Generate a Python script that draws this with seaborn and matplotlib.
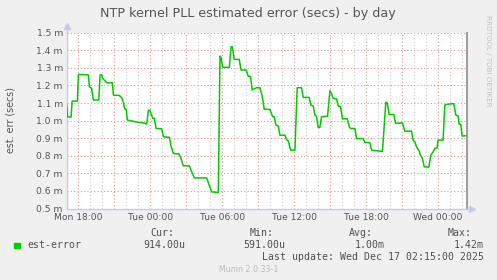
import matplotlib
matplotlib.use("Agg")
import matplotlib.pyplot as plt
import seaborn as sns
import pandas as pd
from matplotlib.ticker import FixedLocator, FixedFormatter

# ---- data (hours since Mon 00:00, est. error in milliseconds) ----
hours = [17.03, 17.09, 17.39, 17.48, 17.92, 18.00, 18.84, 18.92, 19.11, 19.25,
         19.70, 19.81, 19.95, 20.03, 20.17, 20.36, 20.84, 20.92, 21.42, 21.61,
         21.75, 21.84, 21.98, 22.09, 23.00, 23.56, 23.70, 23.84, 23.98, 24.20,
         24.34, 24.48, 24.95, 25.09, 25.59, 25.73, 25.92, 26.39, 26.53, 26.75,
         27.25, 27.45, 27.67, 28.70, 28.89, 29.11, 29.67, 29.81, 29.89, 30.03,
         30.09, 30.59, 30.73, 30.84, 31.00, 31.42, 31.56, 31.98, 32.17, 32.36,
         32.50, 32.73, 32.86, 33.14, 33.34, 33.50, 33.98, 34.20, 34.34, 34.48,
         34.67, 34.81, 35.23, 35.36, 35.50, 35.70, 36.06, 36.25, 36.61, 36.75,
         37.25, 37.39, 37.59, 37.73, 37.86, 38.00, 38.14, 38.28, 38.78, 38.98,
         39.11, 39.25, 39.53, 39.67, 39.86, 40.03, 40.42, 40.59, 40.70, 41.06,
         41.20, 41.75, 41.89, 42.31, 42.45, 42.92, 43.36, 43.64, 43.75, 43.92,
         44.31, 44.45, 45.03, 45.23, 45.78, 45.92, 46.06, 46.20, 46.42, 46.53,
         46.70, 46.84, 47.23, 47.39, 47.59, 47.73, 47.92, 48.00, 48.42, 48.56,
         48.70, 49.31, 49.48, 49.67, 49.75, 49.89, 50.00, 50.31]
est_error_ms = [1.088, 1.022, 1.020, 1.111, 1.111, 1.263, 1.260, 1.192, 1.183, 1.117,
                1.117, 1.260, 1.260, 1.240, 1.230, 1.215, 1.215, 1.145, 1.143, 1.130,
                1.107, 1.069, 1.065, 1.003, 0.990, 0.985, 0.980, 1.060, 1.057, 1.013,
                1.013, 0.955, 0.953, 0.908, 0.905, 0.855, 0.813, 0.810, 0.790, 0.743,
                0.743, 0.709, 0.674, 0.674, 0.637, 0.595, 0.591, 1.367, 1.360, 1.306,
                1.303, 1.303, 1.420, 1.420, 1.348, 1.348, 1.288, 1.288, 1.253, 1.250,
                1.174, 1.183, 1.187, 1.187, 1.136, 1.065, 1.063, 1.022, 1.022, 0.974,
                0.970, 0.917, 0.917, 0.892, 0.885, 0.832, 0.832, 1.187, 1.187, 1.132,
                1.132, 1.088, 1.083, 1.031, 1.025, 0.961, 0.961, 1.022, 1.025, 1.170,
                1.155, 1.126, 1.124, 1.083, 1.080, 1.010, 1.010, 0.965, 0.955, 0.955,
                0.898, 0.898, 0.876, 0.874, 0.832, 0.828, 0.825, 1.104, 1.102, 1.035,
                1.035, 0.984, 0.987, 0.940, 0.940, 0.889, 0.879, 0.851, 0.828, 0.803,
                0.784, 0.737, 0.735, 0.803, 0.822, 0.842, 0.845, 0.889, 0.889, 1.088,
                1.092, 1.097, 1.031, 1.027, 0.980, 0.980, 0.912, 0.914]

x_tick_hours = [18, 24, 30, 36, 42, 48]
x_tick_labels = ["Mon 18:00", "Tue 00:00", "Tue 06:00", "Tue 12:00", "Tue 18:00", "Wed 00:00"]
y_ticks = [0.5, 0.6, 0.7, 0.8, 0.9, 1.0, 1.1, 1.2, 1.3, 1.4, 1.5]
y_tick_labels = ["0.5 m", "0.6 m", "0.7 m", "0.8 m", "0.9 m", "1.0 m",
                 "1.1 m", "1.2 m", "1.3 m", "1.4 m", "1.5 m"]
legend_cols = ["Cur:", "Min:", "Avg:", "Max:"]
legend_vals = ["914.00u", "591.00u", "1.00m", "1.42m"]

df = pd.DataFrame({"hour": hours, "err": est_error_ms})

W, H = 497, 280
sns.set_theme(style="white")
plt.rcParams["font.family"] = ["DejaVu Sans"]
fig = plt.figure(figsize=(W / 100, H / 100), dpi=100, facecolor="#F0F0F0")
ax = fig.add_axes([67 / W, 1 - 208.5 / H, (466.5 - 67) / W, (208.5 - 32.7) / H])
ax.set_facecolor("white")

x0, x1 = 17.05, 50.37
# grids
minor_x = [h for h in range(18, 51)]
major_x = [h for h in range(18, 51, 3)]
for h in minor_x:
    if h not in major_x:
        ax.axvline(h, color="#C8C8C8", lw=0.8, ls=(0, (1, 2)), zorder=1)
for h in major_x:
    ax.axvline(h, color="#F09090", lw=0.8, ls=(0, (1, 2)), zorder=1)
for v in y_ticks[1:]:
    ax.axhline(v, color="#F09090", lw=0.8, ls=(0, (1, 2)), zorder=1)

sns.lineplot(data=df, x="hour", y="err", ax=ax, color="#00CC00", lw=1.1, zorder=3,
             estimator=None, sort=False)

ax.set_xlim(x0, x1)
ax.set_ylim(0.5, 1.5)
ax.xaxis.set_major_locator(FixedLocator(x_tick_hours))
ax.xaxis.set_major_formatter(FixedFormatter(x_tick_labels))
ax.yaxis.set_major_locator(FixedLocator(y_ticks))
ax.yaxis.set_major_formatter(FixedFormatter(y_tick_labels))
ax.tick_params(axis="both", length=0, labelsize=6.6, colors="#555555", pad=3)
ax.set_xlabel("")
ax.set_ylabel("")

for s in ["top"]:
    ax.spines[s].set_visible(False)
ax.spines["left"].set_color("#C8C8F5")
ax.spines["bottom"].set_color("#C8C8F5")
ax.spines["left"].set_linewidth(1.0)
ax.spines["bottom"].set_linewidth(1.0)
ax.spines["right"].set_color("#A0A0A0")
ax.spines["right"].set_linewidth(1.5)

# axis arrows
ax.plot([0, 0], [1.0, 1.04], transform=ax.transAxes, color="#C8C8F5", lw=1.0, clip_on=False)
ax.plot([0], [1.04], marker="^", ms=5, color="#C8C8F5", transform=ax.transAxes, clip_on=False)
ax.plot([1.0, 1.015], [0, 0], transform=ax.transAxes, color="#C8C8F5", lw=1.0, clip_on=False)
ax.plot([1.015], [0], marker=">", ms=5, color="#C8C8F5", transform=ax.transAxes, clip_on=False)

def ft(x, y, s, **kw):
    fig.text(x / W, 1 - y / H, s, **kw)

ft(248, 13, "NTP kernel PLL estimated error (secs) - by day", ha="center", va="center",
   fontsize=9.2, color="#555555")
ft(11, 120, "est. err (secs)", rotation=90, ha="center", va="center", fontsize=6.9,
   color="#555555")
ft(488, 61, "RRDTOOL / TOBI OETIKER", rotation=270, ha="center", va="center",
   fontsize=5.1, color="#C0C0C0")

mono = dict(family="DejaVu Sans Mono", fontsize=7.1, color="#505050", va="center")
fig.patches.append(plt.Rectangle((14 / W, 1 - 248 / H), 5.5 / W, 5.5 / H,
                                 transform=fig.transFigure, color="#00CC00", figure=fig))
ft(27, 245.5, "est-error", ha="left", **mono)
col_x = [150, 250, 349, 448]
val_right = [185.5, 285.5, 384.5, 483.5]
for cx, lab in zip(col_x, legend_cols):
    ft(cx, 233, lab, ha="left", **mono)
for vx, val in zip(val_right, legend_vals):
    ft(vx, 245.5, val, ha="right", **mono)
ft(483.5, 257.5, "Last update: Wed Dec 17 02:15:00 2025", ha="right", **mono)
ft(248.5, 269, "Munin 2.0.33-1", ha="center", va="center", fontsize=5.7, color="#BBBBBB")

fig.savefig("out.png", dpi=100, facecolor=fig.get_facecolor())
